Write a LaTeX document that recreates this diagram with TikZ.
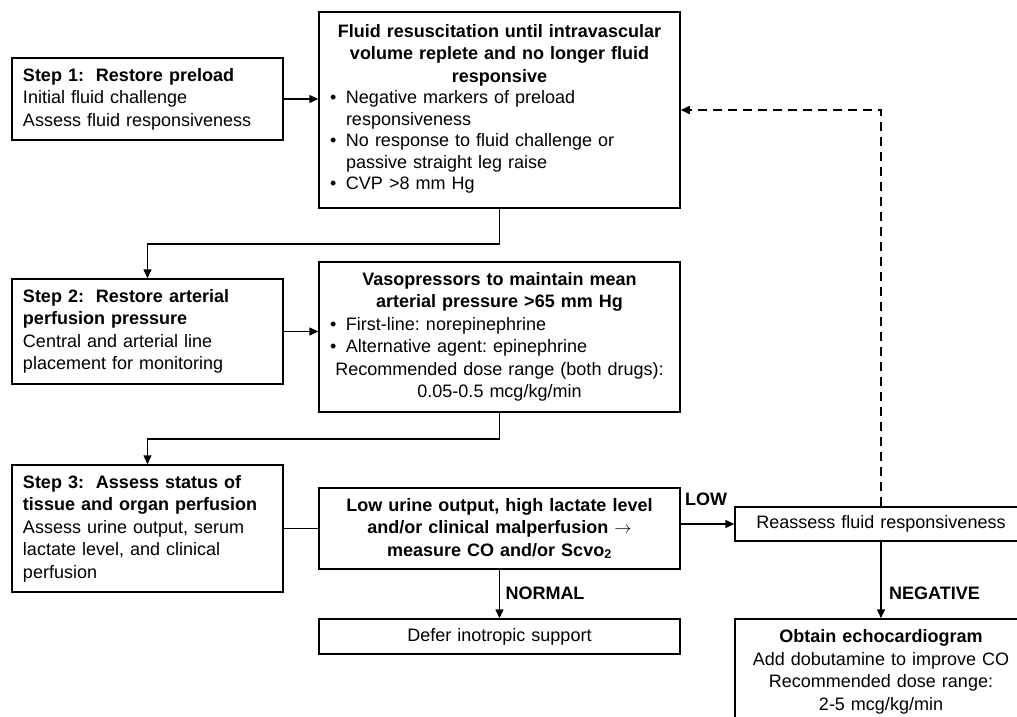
\documentclass[tikz,border=0pt]{standalone}
\usepackage{fontspec}
\setmainfont{Liberation Sans}
\usetikzlibrary{arrows.meta}
\frenchspacing
\newcommand{\bulmark}{\makebox[16pt][l]{\textbullet}}
\tikzset{
  box/.style={draw, line width=1.5pt, inner ysep=0pt, font=\fontsize{18pt}{22.5pt}\selectfont},
  stepbox/.style={box, minimum width=271pt, text width=249pt, inner xsep=11pt, align=left},
  widebox/.style={box, minimum width=361pt, text width=339pt, inner xsep=11pt},
  rbox/.style={box, minimum width=292pt, text width=270pt, inner xsep=11pt, align=center},
  arr/.style={line width=1.5pt, -{Triangle[length=9pt,width=8pt]}},
  conn/.style={line width=1.5pt},
  lbl/.style={font=\fontsize{18pt}{22pt}\selectfont\bfseries, inner sep=0pt}
}
\begin{document}
\begin{tikzpicture}[x=1pt,y=-1pt]
\useasboundingbox (0,0) rectangle (1017,717);
\fill[white] (0,0) rectangle (1017,717);
\clip (0,0) rectangle (1017,717);

% left column
\node[stepbox, minimum height=82pt] (s1) at (147.5,99)
  {\textbf{Step 1:\ \ Restore preload}\\Initial fluid challenge\\Assess fluid responsiveness};
\node[stepbox, minimum height=105pt] (s2) at (147.5,331.5)
  {\textbf{Step 2:\ \ Restore arterial}\\\textbf{perfusion pressure}\\Central and arterial line\\placement for monitoring};
\node[stepbox, minimum height=127pt] (s3) at (147.5,528.5)
  {\textbf{Step 3:\ \ Assess status of}\\\textbf{tissue and organ perfusion}\\Assess urine output, serum\\lactate level, and clinical\\perfusion};

% middle column
\node[widebox, minimum height=196pt, align=left] (fluid) at (499.5,110)
  {{\centering\bfseries Fluid resuscitation until intravascular\\volume replete and no longer fluid\\responsive\par}%
   {\fontsize{18pt}{21.5pt}\selectfont
   \begin{tabular}[t]{@{}p{16pt}@{}l@{}}
   \textbullet & Negative markers of preload\\
               & responsiveness\\
   \textbullet & No response to fluid challenge or\\
               & passive straight leg raise\\
   \textbullet & CVP >8 mm Hg
   \end{tabular}\par}};
\node[widebox, minimum height=150pt, align=left] (vaso) at (499.5,337)
  {{\centering\bfseries Vasopressors to maintain mean\\arterial pressure >65 mm Hg\par}%
   \bulmark First-line: norepinephrine\par
   \bulmark Alternative agent: epinephrine\par
   {\centering Recommended dose range (both drugs):\\0.05-0.5 mcg/kg/min\par}};
\node[widebox, minimum height=81pt, align=center, font=\fontsize{18pt}{22.5pt}\selectfont\bfseries] (low) at (499.5,528.5)
  {Low urine output, high lactate level\\and/or clinical malperfusion $\rightarrow$\\measure CO and/or Scvo\textsubscript{2}};
\node[widebox, minimum height=35pt, align=center] (defer) at (499.5,636.5)
  {Defer inotropic support};

% right column
\node[rbox, minimum height=34pt] (reassess) at (881,524)
  {Reassess fluid responsiveness};
\node[rbox, minimum height=106pt] (echo) at (881,672)
  {\textbf{Obtain echocardiogram}\\Add dobutamine to improve CO\\Recommended dose range:\\2-5 mcg/kg/min};

% connectors
\draw[arr] (s1.east) -- (s1.east -| fluid.west);
\draw[arr] (fluid.south) -- ++(0,35) -| (s2.north);
\draw[arr] (s2.east) -- (s2.east -| vaso.west);
\draw[arr] (vaso.south) -- ++(0,26) -| (s3.north);
\draw[conn] (s3.east) -- (s3.east -| low.west);
\draw[arr] (low.south) -- (defer.north);
\draw[arr] (low.east |- reassess.west) -- (reassess.west);
\draw[arr] (reassess.south) -- (echo.north);
\draw[arr, dash pattern=on 9pt off 6pt] (reassess.north) |- (fluid.east);

% labels
\node[lbl] (lowlbl) at (706,499) {LOW};
\node[lbl] (normlbl) at (545,593) {NORMAL};
\node[lbl] (neglbl) at (934.5,593) {NEGATIVE};
\end{tikzpicture}
\end{document}
